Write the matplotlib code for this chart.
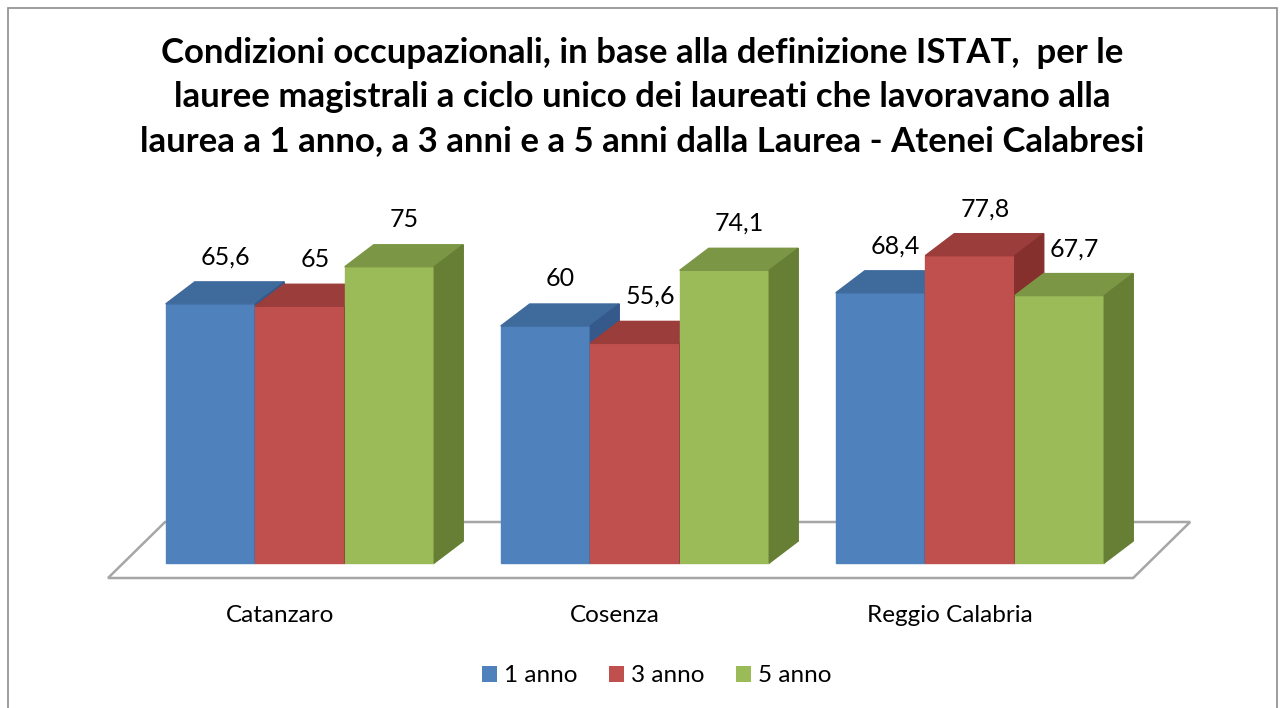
import numpy as np
import matplotlib.pyplot as plt
from matplotlib.patches import Patch, Rectangle

plt.rcParams['font.family'] = ['Lato', 'DejaVu Sans']

categories = ['Catanzaro', 'Cosenza', 'Reggio Calabria']
series = ['1 anno', '3 anno', '5 anno']
val_1 = [65.6, 60.0, 68.4]
val_3 = [65.0, 55.6, 77.8]
val_5 = [75.0, 74.1, 67.7]
labels_1 = ['65,6', '60', '68,4']
labels_3 = ['65', '55,6', '77,8']
labels_5 = ['75', '74,1', '67,7']

title = ("Condizioni occupazionali, in base alla definizione ISTAT,  per le\n"
         "lauree magistrali a ciclo unico dei laureati che lavoravano alla\n"
         "laurea a 1 anno, a 3 anni e a 5 anni dalla Laurea - Atenei Calabresi")

front = ['#4F81BD', '#C0504D', '#9BBB59']
top = ['#3F6A9C', '#9B3D3A', '#7B9745']
side = ['#35598A', '#86302E', '#677F34']

W, H = 1285, 708
fig = plt.figure(figsize=(W / 100, H / 100), dpi=100)

# axes mapped so that 1 x unit = 335 px, 1 y unit = 3.95 px
px_x = 335.0
px_y = 3.95
ax = fig.add_axes([90 / W, 1 - 590 / H, 1110 / W, 400 / H])
ax.set_xlim((90 - 300) / px_x, (1200 - 300) / px_x)
ax.set_ylim((563 - 590) / px_y, (563 - 190) / px_y)
ax.axis('off')

bw = 89.5 / px_x          # bar width
dx = 29 / px_x            # depth offset (x)
dy = 22 / px_y            # depth offset (y)

# floor
fx0, fx1 = -0.5 - 0.073, 2.5 - 0.013
fy0 = -15 / px_y
fdx, fdy = 57 / px_x, 56 / px_y
ax.fill([fx0, fx1, fx1 + fdx, fx0 + fdx], [fy0, fy0, fy0 + fdy, fy0 + fdy],
        facecolor='white', edgecolor='#a6a6a6', lw=1.8, zorder=1)

data = [val_1, val_3, val_5]
labs = [labels_1, labels_3, labels_5]
z = 2
for g in range(len(categories)):
    for s in range(3):
        v = data[s][g]
        x0 = g - 1.5 * bw + s * bw
        x1 = x0 + bw
        ax.fill([x0, x1, x1, x0], [0, 0, v, v], color=front[s], zorder=z)
        ax.fill([x0, x1, x1 + dx, x0 + dx], [v, v, v + dy, v + dy], color=top[s], zorder=z)
        ax.fill([x1, x1 + dx, x1 + dx, x1], [0, dy, v + dy, v], color=side[s], zorder=z)
        z += 1
        ax.text(x0 + bw / 2 + 15 / px_x, v + 47 / px_y, labs[s][g],
                ha='center', va='center', fontsize=18, zorder=50)
    ax.text(g - 0.06, -52 / px_y, categories[g], ha='center', va='center', fontsize=17.5)

fig.text(0.5, 1 - 97 / H, title, ha='center', va='center', fontsize=25,
         fontweight='bold', linespacing=1.45)

handles = [Patch(facecolor=c) for c in front]
fig.legend(handles, series, loc='center', bbox_to_anchor=(0.511, 1 - 676 / H),
           ncol=3, frameon=False, fontsize=17.5, handlelength=0.6, handleheight=0.6,
           handletextpad=0.3, columnspacing=1.3)

fig.patches.append(Rectangle((8 / W, -0.05), (1277 - 8) / W, 1.05 - 8 / H,
                             transform=fig.transFigure, fill=False,
                             edgecolor='#8c8c8c', lw=1.2))

fig.savefig('out.png', dpi=100, facecolor='white')
